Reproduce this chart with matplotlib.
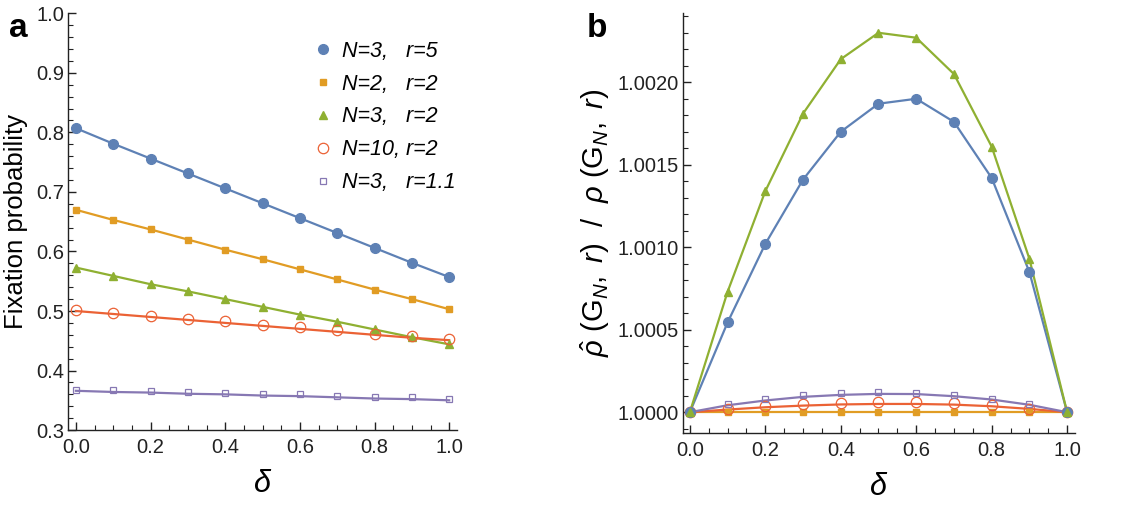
import numpy as np
import matplotlib
matplotlib.use("Agg")
import matplotlib.pyplot as plt
from matplotlib.ticker import MultipleLocator, FormatStrFormatter

plt.rcParams['font.family'] = ['Liberation Sans', 'DejaVu Sans']
plt.rcParams['mathtext.fontset'] = 'custom'
plt.rcParams['mathtext.rm'] = 'Liberation Sans'
plt.rcParams['mathtext.it'] = 'Liberation Sans:italic'

# --- données ---
delta = [0.0, 0.1, 0.2, 0.3, 0.4, 0.5, 0.6, 0.7, 0.8, 0.9, 1.0]

labels = ["N=3,   r=5", "N=2,   r=2", "N=3,   r=2", "N=10, r=2", "N=3,   r=1.1"]
colors = ["#5E81B5", "#E19C24", "#8FB032", "#EB6235", "#8778B3"]

# panneau a : probabilités de fixation (points simulés)
fix_n3_r5 = [0.807, 0.781, 0.756, 0.731, 0.706, 0.681, 0.656, 0.631, 0.606, 0.581, 0.557]
fix_n2_r2 = [0.670, 0.653, 0.637, 0.620, 0.603, 0.587, 0.570, 0.553, 0.536, 0.520, 0.503]
fix_n3_r2 = [0.573, 0.559, 0.545, 0.533, 0.520, 0.507, 0.494, 0.482, 0.469, 0.456, 0.444]
fix_n10_r2 = [0.501, 0.497, 0.492, 0.487, 0.483, 0.477, 0.473, 0.468, 0.462, 0.458, 0.453]
fix_n3_r11 = [0.368, 0.367, 0.366, 0.364, 0.363, 0.361, 0.360, 0.357, 0.356, 0.355, 0.353]

# panneau a : courbes théoriques
fix_line_n10_r2 = [0.500, 0.495, 0.490, 0.485, 0.480, 0.475, 0.470, 0.465, 0.460, 0.455, 0.451]
fix_line_n3_r11 = [0.366, 0.364, 0.363, 0.361, 0.360, 0.358, 0.357, 0.355, 0.353, 0.352, 0.350]

# panneau b : rapport rho_hat / rho (points)
ratio_n3_r5 = [1.0, 1.000544, 1.00102, 1.00141, 1.00170, 1.00187, 1.00190, 1.00176, 1.00142, 1.00085, 1.0]
ratio_n2_r2 = [1.0] * 11
ratio_n3_r2 = [1.0, 1.00073, 1.00134, 1.00181, 1.00214, 1.00230, 1.00227, 1.00205, 1.00161, 1.00093, 1.0]
ratio_n10_r2 = [1.0, 1.000022, 1.000038, 1.000048, 1.000056, 1.000060, 1.000060, 1.000055, 1.000042, 1.000022, 1.0]
ratio_n3_r11 = [1.0, 1.000049, 1.000083, 1.000103, 1.000115, 1.000121, 1.000115, 1.000103, 1.000083, 1.000050, 1.0]

# panneau b : courbes théoriques (rouge, violet)
ratio_line_n10_r2 = [1.0, 1.000016, 1.000030, 1.000040, 1.000047, 1.000050, 1.000050, 1.000046, 1.000036, 1.000020, 1.0]
ratio_line_n3_r11 = [1.0, 1.000042, 1.000071, 1.000093, 1.000105, 1.000111, 1.000110, 1.000097, 1.000077, 1.000045, 1.0]

markers = [
    dict(marker='o', ms=7, mfc=colors[0], mec=colors[0]),
    dict(marker='s', ms=4.5, mfc=colors[1], mec=colors[1]),
    dict(marker='^', ms=6, mfc=colors[2], mec=colors[2]),
    dict(marker='o', ms=7.5, mfc='none', mec=colors[3], mew=0.9),
    dict(marker='s', ms=5, mfc='none', mec=colors[4], mew=0.9),
]


def style_axes(ax):
    for side in ['top', 'right']:
        ax.spines[side].set_visible(False)
    for side in ['left', 'bottom']:
        ax.spines[side].set_linewidth(1.0)
        ax.spines[side].set_color('#222222')
    ax.tick_params(which='both', direction='in', labelsize=14.5, colors='#222222')
    ax.tick_params(axis='x', pad=6)
    ax.tick_params(axis='y', pad=3)
    ax.tick_params(which='major', length=6, width=1.0)
    ax.tick_params(which='minor', length=3.5, width=0.8)
    ax.xaxis.set_major_locator(MultipleLocator(0.2))
    ax.xaxis.set_minor_locator(MultipleLocator(0.05))
    ax.xaxis.set_major_formatter(FormatStrFormatter('%.1f'))


fig = plt.figure(figsize=(11.21, 5.12), dpi=100)
ax_a = fig.add_axes([0.0607, 0.160, 0.347, 0.814])
ax_b = fig.add_axes([0.609, 0.154, 0.350, 0.820])

# --- panneau a ---
points_a = [fix_n3_r5, fix_n2_r2, fix_n3_r2, fix_n10_r2, fix_n3_r11]
lines_a = [fix_n3_r5, fix_n2_r2, fix_n3_r2, fix_line_n10_r2, fix_line_n3_r11]
handles = []
for pts, ln, col, mk, lab in zip(points_a, lines_a, colors, markers, labels):
    ax_a.plot(delta, ln, color=col, lw=1.6, zorder=2)
    h, = ax_a.plot(delta, pts, ls='none', label=lab, zorder=3, **mk)
    handles.append(h)

ax_a.set_xlim(-0.021, 1.021)
ax_a.set_ylim(0.3, 1.0)
style_axes(ax_a)
ax_a.yaxis.set_major_locator(MultipleLocator(0.1))
ax_a.yaxis.set_minor_locator(MultipleLocator(0.02))
ax_a.yaxis.set_major_formatter(FormatStrFormatter('%.1f'))
ax_a.set_xlabel(r'$\delta$', fontsize=22, labelpad=8)
ax_a.set_ylabel('Fixation probability', fontsize=18.5)
ax_a.yaxis.set_label_coords(-0.103, 0.5)

leg = ax_a.legend(handles=handles, loc='upper left', bbox_to_anchor=(0.61, 0.955),
                  frameon=False, fontsize=15.5, handlelength=0.8, handletextpad=0.5,
                  labelspacing=0.55, borderaxespad=0)
for t in leg.get_texts():
    t.set_fontstyle('italic')

# --- panneau b ---
points_b = [ratio_n3_r5, ratio_n2_r2, ratio_n3_r2, ratio_n10_r2, ratio_n3_r11]
lines_b = [ratio_n3_r5, ratio_n2_r2, ratio_n3_r2, ratio_line_n10_r2, ratio_line_n3_r11]
order = [1, 3, 4, 0, 2]
for i in order:
    ax_b.plot(delta, lines_b[i], color=colors[i], lw=1.6, zorder=2)
    ax_b.plot(delta, points_b[i], ls='none', zorder=3, **markers[i])

ax_b.set_xlim(-0.019, 1.021)
ax_b.set_ylim(0.999873, 1.002418)
style_axes(ax_b)
ax_b.yaxis.set_major_locator(MultipleLocator(0.0005))
ax_b.yaxis.set_minor_locator(MultipleLocator(0.0001))
ax_b.yaxis.set_major_formatter(FormatStrFormatter('%.4f'))
ax_b.set_xlabel(r'$\delta$', fontsize=22, labelpad=8)
ax_b.set_ylabel(r'$\hat{\rho}\ (\mathrm{G}_N,\ r)\ \ /\ \ \rho\ (\mathrm{G}_N,\ r)$', fontsize=21)
ax_b.yaxis.set_label_coords(-0.18, 0.5)

# étiquettes des panneaux
fig.text(0.008, 0.975, 'a', fontsize=24, fontweight='bold', va='top', ha='left')
fig.text(0.523, 0.975, 'b', fontsize=24, fontweight='bold', va='top', ha='left')

fig.savefig('out.png', dpi=100)
